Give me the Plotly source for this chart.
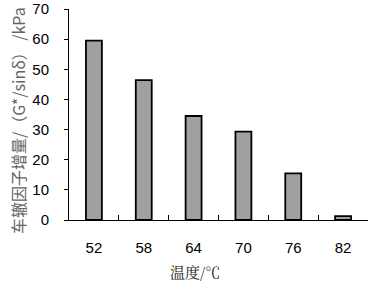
import plotly.graph_objects as go

temps = ["52", "58", "64", "70", "76", "82"]
increments = [59.5, 46.4, 34.5, 29.3, 15.5, 1.3]
y_ticks = [0, 10, 20, 30, 40, 50, 60, 70]
y_title = "车辙因子增量/（G*/sinδ） /kPa"
x_title = "温度/℃"

fig = go.Figure(go.Bar(
    x=temps, y=increments,
    marker=dict(color="#a0a0a0", line=dict(color="black", width=1.8)),
))
fig.update_layout(
    width=370, height=283,
    margin=dict(l=69, r=2, t=9, b=63),
    plot_bgcolor="white", paper_bgcolor="white",
    bargap=0.68, showlegend=False,
    font=dict(family="Liberation Sans, Arial", size=15, color="black"),
)
fig.update_xaxes(
    type="category", showline=True, linecolor="black", linewidth=1,
    ticks="inside", tickson="boundaries", ticklen=5, tickcolor="black",
    showgrid=False, automargin=False, ticklabelstandoff=14,
)
fig.update_yaxes(
    range=[0, 70], tickvals=y_ticks, showline=True, linecolor="black", linewidth=1,
    ticks="outside", ticklen=4, tickcolor="black", showgrid=False, zeroline=False,
    automargin=False, ticklabelstandoff=12,
)
fig.add_annotation(
    text=y_title, textangle=-90, showarrow=False,
    xref="paper", yref="paper", x=0, y=0.469, xanchor="center", yanchor="middle",
    xshift=-51, font=dict(family="Noto Sans CJK SC", size=16, color="#666"),
)
fig.add_annotation(
    text=x_title, showarrow=False, borderpad=0,
    xref="paper", yref="paper", x=0.421, y=0, xanchor="center", yanchor="middle",
    yshift=-51, font=dict(family="Noto Serif CJK SC, Noto Sans CJK SC", size=15, color="#222"),
)
fig.write_html("out.html", config={"displayModeBar": False},
               post_script="document.body.style.margin='0';")
